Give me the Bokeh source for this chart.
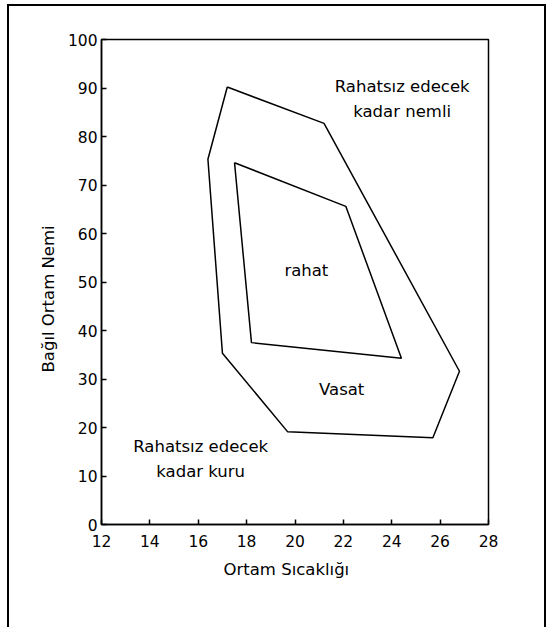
from bokeh.plotting import figure
from bokeh.models import Range1d, FixedTicker, Title
from bokeh.core.properties import value
from bokeh.embed import file_html
from bokeh.resources import INLINE

# ---- data ----
x_ticks = [12, 14, 16, 18, 20, 22, 24, 26, 28]
y_ticks = [0, 10, 20, 30, 40, 50, 60, 70, 80, 90, 100]

outer_temp = [17.2, 21.2, 26.8, 25.7, 19.7, 17.0, 16.4]
outer_rh = [90.2, 82.7, 31.6, 17.9, 19.1, 35.3, 75.3]

inner_temp = [17.5, 22.1, 24.4, 18.2]
inner_rh = [74.6, 65.6, 34.3, 37.5]

region_names = ["Rahatsız edecek\nkadar nemli", "rahat", "Vasat", "Rahatsız edecek\nkadar kuru"]
region_temp = [24.43, 20.47, 21.93, 16.1]
region_rh = [87.7, 52.3, 27.9, 13.5]

x_title = "Ortam Sıcaklığı"
y_title = "Bağıl Ortam Nemi"

FONT = "DejaVu Sans"

p = figure(width=539, height=623, output_backend="svg", toolbar_location=None,
           x_range=Range1d(12, 28), y_range=Range1d(0, 100),
           min_border_left=92, min_border_right=60, min_border_top=33, min_border_bottom=105)
p.styles = {"margin-left": "7px", "margin-top": "4px",
            "border-left": "2px solid black", "border-top": "2px solid black",
            "border-right": "2px solid black"}
p.xgrid.visible = False
p.ygrid.visible = False
p.background_fill_color = "white"
p.border_fill_color = "white"
p.outline_line_color = "black"
p.outline_line_width = 1.5

for ax, ticks in ((p.xaxis, x_ticks), (p.yaxis, y_ticks)):
    ax.ticker = FixedTicker(ticks=ticks)
    ax.major_tick_in = 5
    ax.major_tick_out = 0
    ax.minor_tick_line_color = None
    ax.axis_line_color = "black"
    ax.axis_line_width = 1.5
    ax.major_tick_line_color = "black"
    ax.major_tick_line_width = 1.5
    ax.major_label_text_font = FONT
    ax.major_label_text_font_size = "15.5px"
    ax.major_label_text_color = "black"
p.xaxis.major_label_standoff = 10
p.yaxis.major_label_standoff = 4

ot = outer_temp + outer_temp[:1]
orh = outer_rh + outer_rh[:1]
it = inner_temp + inner_temp[:1]
irh = inner_rh + inner_rh[:1]
p.line(ot, orh, line_color="black", line_width=1.5)
p.line(it, irh, line_color="black", line_width=1.5)

p.text(x=region_temp, y=region_rh, text=region_names,
       text_font=value(FONT), text_font_size="16.5px", text_color="black",
       text_align="center", text_baseline="middle", text_line_height=1.3)

p.add_layout(Title(text=y_title, align="left", offset=152, standoff=13,
                   text_font=FONT, text_font_size="16.5px", text_font_style="normal",
                   text_color="black"), "left")
p.add_layout(Title(text=x_title, align="left", offset=122, standoff=16,
                   text_font=FONT, text_font_size="16.5px", text_font_style="normal",
                   text_color="black"), "below")

open("out.html", "w").write(file_html(p, INLINE))
